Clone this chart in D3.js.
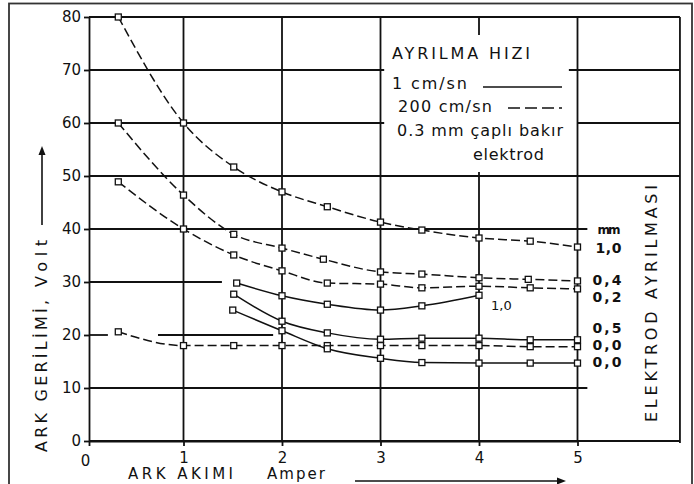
<!DOCTYPE html>
<html>
<head>
<meta charset="utf-8">
<script src="https://cdn.jsdelivr.net/npm/d3@7"></script>
<style>
  html, body { margin: 0; padding: 0; background: #fff; }
  svg { display: block; font-family: "DejaVu Sans", "Liberation Sans", Arial, sans-serif; }
</style>
</head>
<body>
<svg id="chart" width="694" height="484"></svg>
<script>
// Axis ticks: arc current (Amper) and arc voltage (Volt)
const currentTicks = [0, 1, 2, 3, 4, 5];
const voltageTicks = [0, 10, 20, 30, 40, 50, 60, 70, 80];

// 200 cm/sn separation speed (dashed curves)
const fast10Current = [0.31, 1, 1.51, 2, 2.46, 3, 3.42, 4, 4.52, 5];
const fast10Voltage = [80, 60, 51.7, 47, 44.2, 41.3, 39.8, 38.3, 37.7, 36.6];
const fast04Current = [0.31, 1, 1.51, 2, 2.42, 3, 3.42, 4, 4.5, 5];
const fast04Voltage = [60, 46.4, 39, 36.4, 34.3, 31.9, 31.5, 30.8, 30.5, 30.2];
const fast02Current = [0.31, 1, 1.51, 2, 2.46, 3, 3.42, 4, 4.52, 5];
const fast02Voltage = [48.9, 40, 35.1, 32.1, 29.8, 29.6, 28.9, 29.2, 28.9, 28.7];
const fast00Current = [0.31, 1, 1.51, 2, 2.46, 3, 3.42, 4, 4.52, 5];
const fast00Voltage = [20.6, 18, 18, 18, 18, 18, 18, 18, 17.8, 17.8];

// 1 cm/sn separation speed (solid curves)
const slow10Current = [1.54, 2, 2.46, 3, 3.42, 4];
const slow10Voltage = [29.8, 27.4, 25.8, 24.7, 25.5, 27.5];
const slow05Current = [1.51, 2, 2.46, 3, 3.42, 4, 4.52, 5];
const slow05Voltage = [27.7, 22.6, 20.4, 19.2, 19.4, 19.4, 19.1, 19.1];
const slow00Current = [1.5, 2, 2.46, 3, 3.42, 4, 4.52, 5];
const slow00Voltage = [24.7, 20.8, 17.4, 15.6, 14.8, 14.7, 14.7, 14.7];

// Electrode separation labels at the right-hand ends of the curves
const gapLabels = ["1,0", "0,4", "0,2", "0,5", "0,0", "0,0"];
const gapLabelVoltages = [36.5, 30.4, 27.2, 21.3, 18.1, 14.9];

// Legend texts
const legendTitle = "AYRILMA HIZI";
const legendSlow = "1 cm/sn";
const legendFast = "200 cm/sn";
const legendNote1 = "0.3 mm çaplı bakır";
const legendNote2 = "elektrod";

const series = [
  { current: fast10Current, voltage: fast10Voltage, dashed: true },
  { current: fast04Current, voltage: fast04Voltage, dashed: true },
  { current: fast02Current, voltage: fast02Voltage, dashed: true },
  { current: fast00Current, voltage: fast00Voltage, dashed: true },
  { current: slow10Current, voltage: slow10Voltage, dashed: false },
  { current: slow05Current, voltage: slow05Voltage, dashed: false },
  { current: slow00Current, voltage: slow00Voltage, dashed: false }
];

const svg = d3.select("#chart");
const ink = "#111";
const font = "\"DejaVu Sans\", \"Liberation Sans\", Arial, sans-serif";

const x = d3.scaleLinear().domain([0, 1, 5]).range([89, 183.5, 577.5]);
const y = d3.scaleLinear().domain([0, 80]).range([441, 17]);

// Outer frame
svg.append("rect")
  .attr("x", 9).attr("y", 3.5).attr("width", 683).attr("height", 520)
  .attr("fill", "none").attr("stroke", "#333").attr("stroke-width", 1.8);

// Horizontal grid lines, each with its own drawn extent (in amperes)
const hSpans = {
  0: [[0, 6.04]],
  10: [[0, 5.1]],
  20: [[0, 0.2], [0.73, 1.91]],
  30: [[0, 1.39]],
  40: [[0, 5.1]],
  50: [[0, 6.04]],
  60: [[0, 3.04], [5, 6.04]],
  70: [[0, 3.04], [4.91, 6.04]],
  80: [[0, 6.04]]
};
const grid = svg.append("g").attr("stroke", ink).attr("stroke-width", 1.8);
voltageTicks.forEach(v => {
  hSpans[v].forEach(s => {
    grid.append("line")
      .attr("x1", x(s[0])).attr("x2", x(s[1]))
      .attr("y1", y(v)).attr("y2", y(v));
  });
});
// Vertical grid lines
currentTicks.filter(c => c > 0).forEach(c => {
  const spans = c === 4 ? [[0, 50.8], [76.6, 80]] : [[0, 80]];
  spans.forEach(s => {
    grid.append("line")
      .attr("x1", x(c)).attr("x2", x(c))
      .attr("y1", y(s[0])).attr("y2", y(s[1]));
  });
});
// Right edge of the plot frame
grid.append("line")
  .attr("x1", x(6.04)).attr("x2", x(6.04))
  .attr("y1", y(80)).attr("y2", y(0) + 2);

// Axes
const yAxis = svg.append("g")
  .attr("transform", `translate(${x(0)},0)`)
  .call(d3.axisLeft(y).tickValues(voltageTicks).tickSize(5).tickSizeOuter(0).tickPadding(3));
const xAxis = svg.append("g")
  .attr("transform", `translate(0,${y(0)})`)
  .call(d3.axisBottom(x).tickValues(currentTicks).tickSize(5).tickSizeOuter(0).tickPadding(6)
    .tickFormat(d3.format("d")));
[yAxis, xAxis].forEach(a => {
  a.selectAll("path, line").attr("stroke", ink).attr("stroke-width", 1.8);
  a.selectAll("text").attr("fill", ink).attr("font-size", 15).attr("font-family", font);
});
xAxis.selectAll(".tick text").filter(d => d === 0).attr("transform", "translate(-4,3)");

// Curves
const line = d3.line()
  .x(d => x(d[0]))
  .y(d => y(d[1]))
  .curve(d3.curveMonotoneX);
const curves = svg.append("g");
series.forEach(s => {
  const pts = s.current.map((c, i) => [c, s.voltage[i]]);
  curves.append("path")
    .datum(pts)
    .attr("d", line)
    .attr("fill", "none")
    .attr("stroke", ink)
    .attr("stroke-width", 1.5)
    .attr("stroke-dasharray", s.dashed ? "9,4" : null);
});
series.forEach(s => {
  curves.selectAll(null)
    .data(s.current.map((c, i) => [c, s.voltage[i]]))
    .enter().append("rect")
    .attr("x", d => x(d[0]) - 3).attr("y", d => y(d[1]) - 3)
    .attr("width", 6).attr("height", 6)
    .attr("fill", "#fff").attr("stroke", ink).attr("stroke-width", 1.3);
});

// Legend
const lg = svg.append("g");
lg.append("rect")
  .attr("x", x(3.04)).attr("y", 35).attr("width", x(4.91) - x(3.04)).attr("height", 137)
  .attr("fill", "#fff");
const legendText = (t, px, py, len) => lg.append("text")
  .attr("x", px).attr("y", py).attr("font-size", 16).attr("fill", ink)
  .attr("textLength", len).attr("lengthAdjust", "spacing").text(t);
legendText(legendTitle, 392, 59, 138);
legendText(legendSlow, 392, 89, 75);
legendText(legendFast, 398, 112, 94);
legendText(legendNote1, 397, 136, 166);
legendText(legendNote2, 473, 160, 71);
lg.append("line").attr("x1", 483).attr("x2", 562).attr("y1", 87).attr("y2", 87)
  .attr("stroke", ink).attr("stroke-width", 1.4);
lg.append("line").attr("x1", 508).attr("x2", 562).attr("y1", 108).attr("y2", 108)
  .attr("stroke", ink).attr("stroke-width", 1.4).attr("stroke-dasharray", "12,5");

// Separation labels on the right
const labels = svg.append("g").attr("font-weight", "bold").attr("fill", ink);
labels.append("text")
  .attr("x", x(5) + 20).attr("y", y(39.8) + 4)
  .attr("font-size", 12).attr("textLength", 23).attr("lengthAdjust", "spacing")
  .text("mm");
gapLabels.forEach((t, i) => {
  labels.append("text")
    .attr("x", x(5) + (i === 0 ? 18 : 15)).attr("y", y(gapLabelVoltages[i]) + 5.2)
    .attr("font-size", 14).attr("textLength", i === 0 ? 26 : 29).attr("lengthAdjust", "spacing")
    .text(t);
});
// Inline label at the end of the 1 cm/sn, 1,0 mm curve
svg.append("text")
  .attr("x", x(slow10Current[slow10Current.length - 1]) + 12)
  .attr("y", y(slow10Voltage[slow10Voltage.length - 1]) + 15)
  .attr("font-size", 13).attr("fill", ink).text("1,0");

// Right-hand axis title
svg.append("text")
  .attr("transform", "translate(657,422) rotate(-90)")
  .attr("font-size", 16).attr("fill", ink)
  .attr("textLength", 237).attr("lengthAdjust", "spacing")
  .text("ELEKTROD AYRILMASI");

// Voltage axis title with arrow
svg.append("text")
  .attr("transform", "translate(47,452) rotate(-90)")
  .attr("font-size", 16).attr("fill", ink)
  .attr("textLength", 152).attr("lengthAdjust", "spacing")
  .text("ARK GERİLİMİ,");
svg.append("text")
  .attr("transform", "translate(47,287) rotate(-90)")
  .attr("font-size", 16).attr("fill", ink)
  .attr("textLength", 47).attr("lengthAdjust", "spacing")
  .text("Volt");
svg.append("line").attr("x1", 42).attr("x2", 42).attr("y1", 225).attr("y2", 152)
  .attr("stroke", ink).attr("stroke-width", 1.6);
svg.append("path").attr("d", "M42,146 L38.5,155 L45.5,155 Z").attr("fill", ink);

// Current axis title with arrow
svg.append("text")
  .attr("x", 128).attr("y", 479).attr("font-size", 15).attr("fill", ink)
  .attr("textLength", 105).attr("lengthAdjust", "spacing")
  .text("ARK AKIMI");
svg.append("text")
  .attr("x", 267).attr("y", 479).attr("font-size", 15).attr("fill", ink)
  .attr("textLength", 58).attr("lengthAdjust", "spacing")
  .text("Amper");
svg.append("line").attr("x1", 355).attr("x2", 558).attr("y1", 481).attr("y2", 481)
  .attr("stroke", ink).attr("stroke-width", 1.6);
svg.append("path").attr("d", "M566,481 L557,477.5 L557,484.5 Z").attr("fill", ink);
</script>
</body>
</html>
